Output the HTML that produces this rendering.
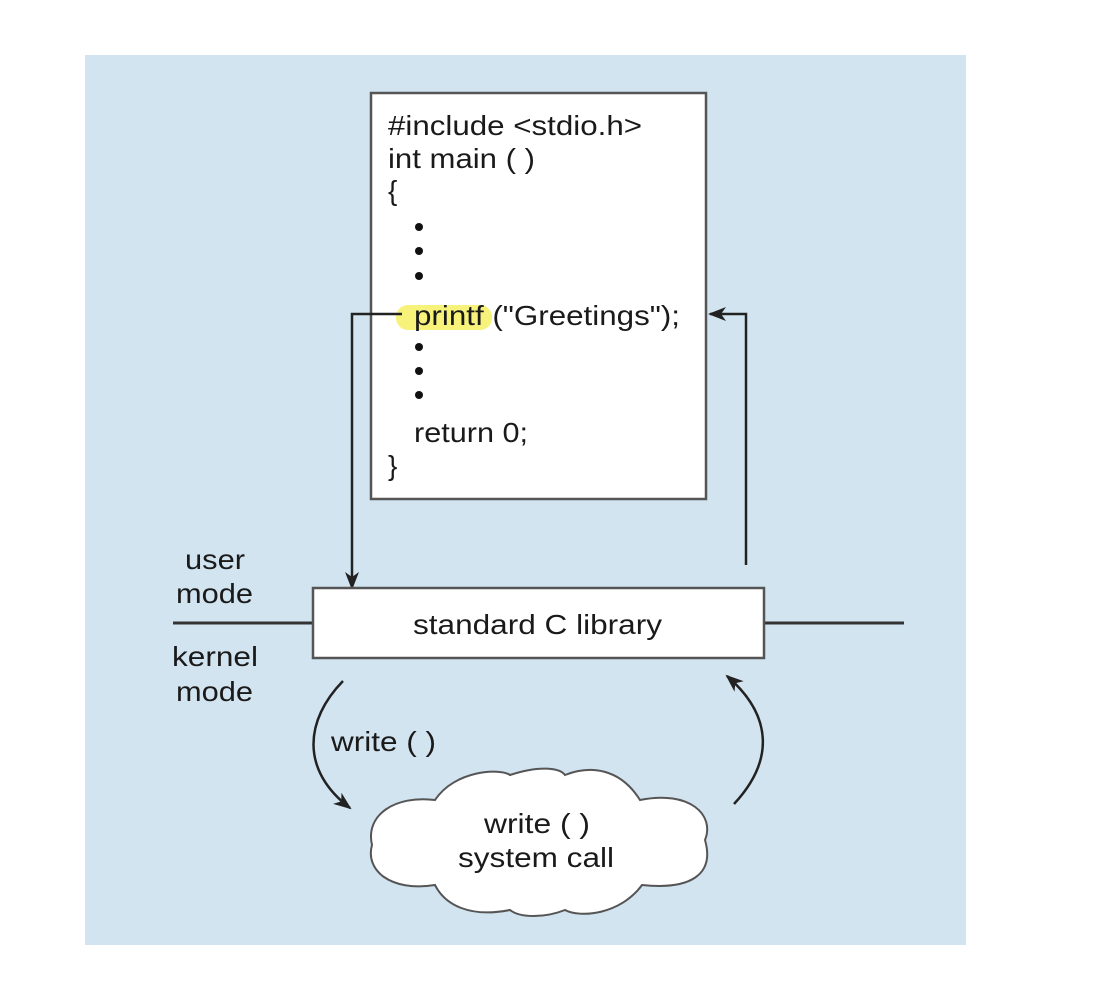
<!DOCTYPE html>
<html><head><meta charset="utf-8"><style>
html,body{margin:0;padding:0;background:#fff;}
svg{display:block;}
text{font-family:"Liberation Sans",Arial,sans-serif;fill:#1a1a1a;}
</style></head><body>
<svg width="1102" height="1000" viewBox="0 0 1102 1000" xmlns="http://www.w3.org/2000/svg">
<defs>
<marker id="ah2" markerWidth="18" markerHeight="14" refX="16" refY="7" orient="auto" markerUnits="userSpaceOnUse" viewBox="0 0 18 14">
<path d="M0,0 L18,7 L0,14 L5,7 z" fill="#222"/>
</marker>
</defs>
<rect x="85" y="55" width="881" height="890" fill="#d2e4f0"/>
<!-- code box -->
<rect x="371" y="93" width="335" height="406" fill="#fff" stroke="#555" stroke-width="2.5"/>
<rect x="396" y="305" width="96" height="25" rx="12" fill="#f6f27a"/>
<g font-size="28" lengthAdjust="spacingAndGlyphs">
<text x="388" y="135" textLength="254" lengthAdjust="spacingAndGlyphs">#include &lt;stdio.h&gt;</text>
<text x="388" y="168" textLength="147" lengthAdjust="spacingAndGlyphs">int main ( )</text>
<text x="388" y="200">{</text>
<text x="414" y="325" textLength="266" lengthAdjust="spacingAndGlyphs">printf ("Greetings");</text>
<text x="414" y="442" textLength="114" lengthAdjust="spacingAndGlyphs">return 0;</text>
<text x="388" y="475">}</text>
</g>
<g fill="#111">
<circle cx="419" cy="227" r="4"/><circle cx="419" cy="251" r="4"/><circle cx="419" cy="276" r="4"/>
<circle cx="419" cy="347" r="4"/><circle cx="419" cy="371" r="4"/><circle cx="419" cy="395" r="4"/>
</g>
<!-- connectors -->
<polyline points="402,314 352,314 352,588" fill="none" stroke="#222" stroke-width="2.5" marker-end="url(#ah2)"/>
<polyline points="746,565 746,314 710,314" fill="none" stroke="#222" stroke-width="2.5" marker-end="url(#ah2)"/>
<!-- mode line -->
<line x1="173" y1="623" x2="313" y2="623" stroke="#333" stroke-width="3"/>
<line x1="764" y1="623" x2="904" y2="623" stroke="#333" stroke-width="3"/>
<rect x="313" y="588" width="451" height="70" fill="#fff" stroke="#555" stroke-width="2.5"/>
<text x="413" y="634" font-size="28" textLength="249" lengthAdjust="spacingAndGlyphs">standard C library</text>
<g font-size="28">
<text x="185" y="569" textLength="60" lengthAdjust="spacingAndGlyphs">user</text>
<text x="176" y="603" textLength="77" lengthAdjust="spacingAndGlyphs">mode</text>
<text x="172" y="666" textLength="86" lengthAdjust="spacingAndGlyphs">kernel</text>
<text x="176" y="701" textLength="77" lengthAdjust="spacingAndGlyphs">mode</text>
</g>
<!-- curved arrows -->
<path d="M343,681 C305,720 300,770 350,808" fill="none" stroke="#222" stroke-width="2.5" marker-end="url(#ah2)"/>
<path d="M734,804 C775,760 772,715 727,676" fill="none" stroke="#222" stroke-width="2.5" marker-end="url(#ah2)"/>
<text x="331" y="751" font-size="28" textLength="105" lengthAdjust="spacingAndGlyphs">write ( )</text>
<!-- cloud -->
<path d="M435,800 C455,770 500,768 510,775 C540,765 560,768 565,775 C590,765 620,768 640,800 C690,790 715,815 705,840 C715,875 690,890 642,885 C620,915 580,918 565,910 C545,918 520,918 510,910 C470,918 445,905 435,885 C390,892 365,870 372,845 C365,815 395,795 435,800 z" fill="#fff" stroke="#555" stroke-width="2"/>
<g font-size="28">
<text x="484" y="833" textLength="106" lengthAdjust="spacingAndGlyphs">write ( )</text>
<text x="458" y="867" textLength="156" lengthAdjust="spacingAndGlyphs">system call</text>
</g>
</svg>
</body></html>
